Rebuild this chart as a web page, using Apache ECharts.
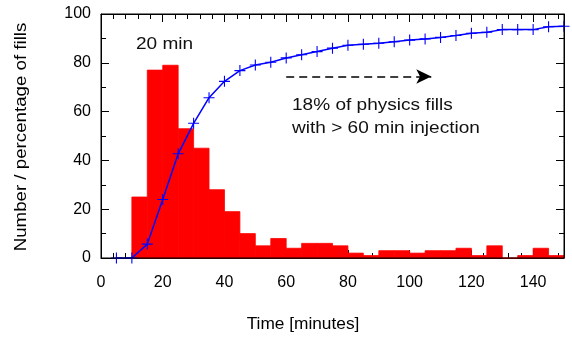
<!DOCTYPE html>
<html><head><meta charset="utf-8">
<script src="https://cdn.jsdelivr.net/npm/echarts@6/dist/echarts.min.js"></script>
<style>html,body{margin:0;padding:0;background:#fff}#c{width:572px;height:339px}</style>
</head><body><div id="c"></div>
<script>
const binStart = [10,15,20,25,30,35,40,45,50,55,60,65,70,75,80,85,90,95,100,105,110,115,120,125,130,135,140,145];
const binCounts = [25,77,79,53,45,28,19,10,5,8,4,6,6,5,2,1,3,3,2,3,3,4,1,5,0,1,4,1];
const binWidth = 5;
const cumTime = [5,10,15,20,25,30,35,40,45,50,55,60,65,70,75,80,85,90,95,100,105,110,115,120,125,130,135,140,145,150];
const cumPct = [0,0,5.7,24,42.7,55.2,65.7,72.4,76.8,79.1,80.2,82.0,83.3,84.6,86.0,87.2,87.6,88.0,88.6,89.3,89.8,90.4,91.2,92.1,92.5,93.6,93.6,93.6,94.8,95.0];
const xTicks = [0,20,40,60,80,100,120,140];
const yTicks = [0,20,40,60,80,100];
const arrowFrom = [60, 74.4];
const arrowTo = [107, 74.4];

const FONT = '"Liberation Sans", Arial, sans-serif';
const chart = echarts.init(document.getElementById('c'), null, {renderer:'canvas'});
const GRID = {left:101, right:8, top:14, bottom:81, containLabel:false, outerBoundsMode:'none'};
const axLine = {show:true, onZero:false, lineStyle:{color:'#000', width:1}};
const noLine = {show:false, onZero:false};
function xAxisDef(pos, major){
  return {
    type:'value', gridIndex: major?0:1, position:pos, min:0, max:150, interval: major?20:4,
    axisLine: major?axLine:noLine,
    axisTick:{show:true, inside:true, length: major?8:5, lineStyle:{color:'#000', width:1}},
    axisLabel:{show: major && pos==='bottom', showMaxLabel:false, fontFamily:FONT, fontSize:16, color:'#000', margin:17,
      formatter: v => xTicks.indexOf(v) >= 0 ? String(v) : ''},
    splitLine:{show:false}
  };
}
function yAxisDef(pos, major){
  return {
    type:'value', gridIndex: major?0:1, position:pos, min:0, max:100, interval: major?20:10,
    axisLine: major?axLine:noLine,
    axisTick:{show:true, inside:true, length: major?8:5, lineStyle:{color:'#000', width:1}},
    axisLabel:{show: major && pos==='left', fontFamily:FONT, fontSize:16, color:'#000', margin:10,
      formatter: v => yTicks.indexOf(v) >= 0 ? String(v) : ''},
    splitLine:{show:false}
  };
}
const option = {
  animation:false,
  backgroundColor:'#fff',
  grid:[Object.assign({}, GRID), Object.assign({show:true, borderColor:'#000', borderWidth:1, backgroundColor:'transparent', z:10}, GRID)],
  xAxis:[xAxisDef('bottom', true), xAxisDef('top', true), xAxisDef('bottom', false), xAxisDef('top', false)],
  yAxis:[yAxisDef('left', true), yAxisDef('right', true), yAxisDef('left', false), yAxisDef('right', false)],
  series:[
    {
      type:'custom', xAxisIndex:0, yAxisIndex:0, z:2,
      data: binStart.map((s,i)=>[s, binCounts[i]]),
      encode:{x:0, y:1},
      renderItem(params, api){
        const x0 = api.value(0), v = api.value(1);
        const p0 = api.coord([x0, v]);
        const p1 = api.coord([x0 + binWidth, 0]);
        return {type:'rect', shape:{x:p0[0], y:p0[1], width:p1[0]-p0[0], height:p1[1]-p0[1]},
          style:{fill:'#ff0000', stroke:'#ff0000', lineWidth:0.8}};
      }
    },
    {
      type:'line', xAxisIndex:0, yAxisIndex:0, z:5,
      data: cumTime.map((t,i)=>[t, cumPct[i]]),
      symbol:'path://M4.5,0h1v4.5h4.5v1h-4.5v4.5h-1v-4.5h-4.5v-1h4.5z',
      symbolSize:11,
      showSymbol:true,
      clip:false,
      itemStyle:{color:'#0000ff'},
      lineStyle:{color:'#0000ff', width:1.5},
      markLine:{
        silent:true, animation:false,
        symbol:['none','arrow'], symbolSize:[11,15],
        label:{show:false},
        lineStyle:{color:'#000', width:1.5, type:[8,5]},
        data:[[{coord:arrowFrom},{coord:arrowTo}]]
      }
    }
  ],
  graphic:[
    {type:'text', x:136, y:44, scaleX:1.12, style:{text:'20 min', font:'17px '+FONT, fill:'#111', textAlign:'left', textVerticalAlign:'middle'}},
    {type:'text', x:292, y:105, scaleX:1.12, style:{text:'18% of physics fills', font:'17px '+FONT, fill:'#111', textAlign:'left', textVerticalAlign:'middle'}},
    {type:'text', x:292, y:128, scaleX:1.12, style:{text:'with > 60 min injection', font:'17px '+FONT, fill:'#111', textAlign:'left', textVerticalAlign:'middle'}},
    {type:'text', x:303, y:325, scaleX:1.08, style:{text:'Time [minutes]', font:'16px '+FONT, fill:'#000', textAlign:'center', textVerticalAlign:'middle'}},
    {type:'text', x:21, y:137, rotation:Math.PI/2, scaleX:1.1, style:{text:'Number / percentage of fills', font:'17px '+FONT, fill:'#000', textAlign:'center', textVerticalAlign:'middle'}}
  ]
};
chart.setOption(option);
</script></body></html>
